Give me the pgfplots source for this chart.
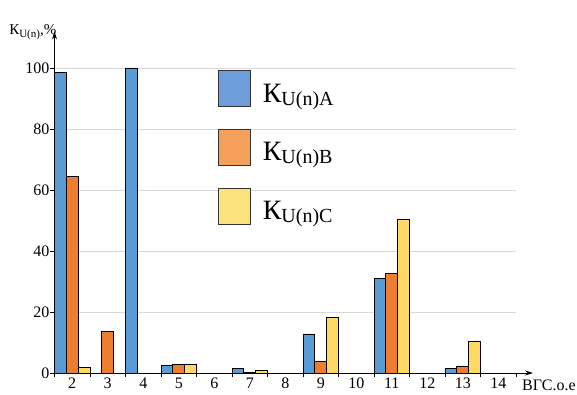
\documentclass[border=0pt]{standalone}
\usepackage{pgfplots}
\pgfplotsset{compat=1.18}
\usepackage{fontspec}
\setmainfont{Liberation Serif}
\usetikzlibrary{arrows.meta}
\definecolor{barA}{HTML}{5B9BD5}
\definecolor{barB}{HTML}{ED7D31}
\definecolor{barC}{HTML}{FFD966}
\definecolor{legA}{HTML}{6D9EDB}
\definecolor{legB}{HTML}{F4A05A}
\definecolor{legC}{HTML}{FBE27A}
\pgfplotsset{bigbox/.style={legend image code/.code={\draw[##1] (0pt,-13pt) rectangle (32pt,23pt);}}}
\newcommand{\legtxt}[1]{К\raisebox{-3pt}{\fontsize{20}{20}\selectfont U(n)#1}}
\begin{document}
\begin{tikzpicture}
\begin{axis}[
  scale only axis,
  width=461.5pt, height=341.6pt,
  xmin=1.5, xmax=14.5,
  ymin=0, ymax=112,
  axis x line=bottom, axis y line=left,
  axis line style={line width=0.8pt, -{Stealth[length=8pt,width=5pt]}},
  x axis line style={shorten >=-17pt},
  tick align=outside,
  xtick={2,...,14},
  minor xtick={1.5,2.5,...,14.5},
  major x tick style={draw=none},
  minor tick length=4pt,
  major tick length=4pt,
  ytick={0,20,40,60,80,100},
  ymajorgrids,
  grid style={gray!30, line width=0.8pt},
  tick style={black, line width=0.8pt},
  /pgf/number format/assume math mode=true,
  tick label style={font=\fontsize{16}{16}\selectfont},
  yticklabel style={inner sep=1pt},
  xticklabel style={inner sep=1pt},
  xlabel={ВГС.о.е},
  every axis x label/.style={at={(rel axis cs:1.013,0)}, anchor=north west, inner sep=0pt, yshift=-7pt, font=\fontsize{16}{16}\selectfont},
  ylabel={{\fontsize{15}{15}\selectfont К\raisebox{-3pt}{\fontsize{11}{11}\selectfont U(n)},\%}},
  every axis y label/.style={at={(rel axis cs:0,1)}, anchor=base east, inner sep=0pt, xshift=2pt, yshift=-3pt},
  legend style={draw=none, fill=none, at={(axis cs:6.1,99.3)}, anchor=north west, inner sep=0pt, row sep=22pt, column sep=12pt, nodes={inner sep=0pt}, font=\fontsize{28}{28}\selectfont},
  legend cell align=left,
  clip=false,
]
\addlegendimage{bigbox, fill=legA, draw=black!80, line width=0.8pt}
\addlegendimage{bigbox, fill=legB, draw=black!80, line width=0.8pt}
\addlegendimage{bigbox, fill=legC, draw=black!80, line width=0.8pt}
\legend{\legtxt{A},\legtxt{B},\legtxt{C}}
\addplot[ybar, bar width=0.3333, bar shift=-0.3333, fill=barA, draw=black, line width=0.8pt] coordinates {(2,98.4) (4,100) (5,2.6) (7,1.6) (9,12.8) (11,31.1) (13,1.5)};
\addplot[ybar, bar width=0.3333, bar shift=0, fill=barB, draw=black, line width=0.8pt] coordinates {(2,64.5) (3,13.5) (5,2.8) (7,0.3) (9,3.9) (11,32.7) (13,2.3)};
\addplot[ybar, bar width=0.3333, bar shift=0.3333, fill=barC, draw=black, line width=0.8pt] coordinates {(2,1.7) (5,2.8) (7,0.8) (9,18.2) (11,50.4) (13,10.4)};
\end{axis}
\pgfresetboundingbox
\path (-54.5pt,-21pt) rectangle (522.5pt,373pt);
\end{tikzpicture}
\end{document}
